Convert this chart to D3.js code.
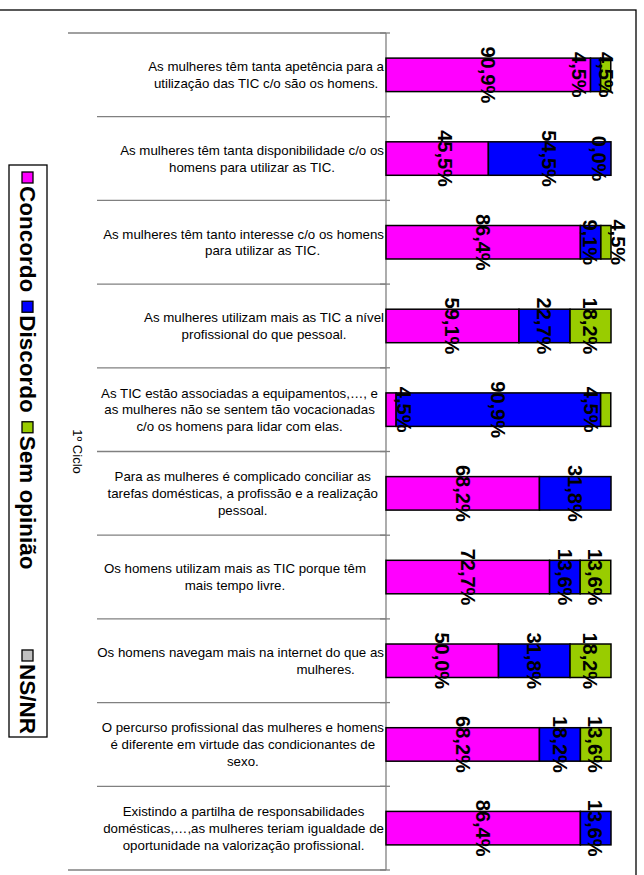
<!DOCTYPE html>
<html>
<head>
<meta charset="utf-8">
<script src="https://cdn.jsdelivr.net/npm/d3@7"></script>
<style>
  body { margin: 0; background: #fff; }
  svg { display: block; }
  text { font-family: "Liberation Sans", Arial, sans-serif; }
</style>
</head>
<body>
<svg id="chart" width="644" height="875"></svg>
<script>
// Statements (each entry = the wrapped lines of one category label)
const categories = [
  ["As mulheres têm tanta apetência para a", "utilização das TIC c/o são os homens."],
  ["As mulheres têm tanta disponibilidade c/o os", "homens para utilizar as TIC."],
  ["As mulheres têm tanto interesse c/o os homens", "para utilizar as TIC."],
  ["As mulheres utilizam mais as TIC a nível", "profissional do que pessoal."],
  ["As TIC estão associadas a equipamentos,…, e", "as mulheres não se sentem tão vocacionadas", "c/o os homens para lidar com elas."],
  ["Para as mulheres é complicado conciliar as", "tarefas domésticas, a profissão e a realização", "pessoal."],
  ["Os homens utilizam mais as TIC porque têm", "mais tempo livre."],
  ["Os homens navegam mais na internet do que as", "mulheres."],
  ["O percurso profissional das mulheres e homens", "é diferente em virtude das condicionantes de", "sexo."],
  ["Existindo a partilha de responsabilidades", "domésticas,…,as mulheres teriam igualdade de", "oportunidade na valorização profissional."]
];

// Percentages per answer (null = no value recorded)
const concordo   = [90.9, 45.5, 86.4, 59.1, 4.5, 68.2, 72.7, 50.0, 68.2, 86.4];
const discordo   = [4.5, 54.5, 9.1, 22.7, 90.9, 31.8, 13.6, 31.8, 18.2, 13.6];
const semOpiniao = [4.5, 0.0, 4.5, 18.2, 4.5, null, 13.6, 18.2, 13.6, null];
const nsnr       = [null, null, null, null, null, null, null, null, null, null];

const seriesNames = ["Concordo", "Discordo", "Sem opinião", "NS/NR"];
const groupLabel = "1º Ciclo";

// ---- presentation ----
const colors = ["#FF00FF", "#0000FF", "#99CC00", "#C0C0C0"];
const labelFont = 13.3, lineGap = 16.7;
// horizontal nudges for crowded value labels, keyed "row-series"
const labelNudge = { "0-1": -16, "1-0": 8, "1-2": -12, "2-2": 12, "4-0": 13, "4-2": -15 };
// horizontal nudges for individual wrapped label lines, keyed "row-line"
const lineNudge = { "2-1": 19, "4-0": -6, "4-1": -6, "4-2": -6, "5-0": -6, "5-1": -6, "5-2": -6,
                    "6-0": -18, "6-1": -18, "7-1": 85 };

const svg = d3.select("#chart");
const seriesValues = [concordo, discordo, semOpiniao, nsnr];
const rows = categories.map((c, i) => {
  const r = { idx: i };
  seriesNames.forEach((s, k) => r[s] = seriesValues[k][i]);
  return r;
});

const stack = d3.stack()
  .keys(seriesNames)
  .value((d, key) => d[key] == null ? 0 : d[key]);
const stacked = stack(rows);

const y = d3.scaleBand()
  .domain(d3.range(categories.length))
  .range([33, 870])
  .paddingInner(0.6)
  .paddingOuter(0.3);
const x = d3.scaleLinear().domain([0, 100]).range([386, 611]);

// outer frame
svg.append("rect")
  .attr("x", -2).attr("y", 10).attr("width", 638).attr("height", 880)
  .attr("fill", "none").attr("stroke", "#000").attr("stroke-width", 1.3);

// category separators (group level lines extend further left)
const bounds = d3.range(categories.length + 1).map(i => 33 + i * y.step());
svg.append("g").selectAll("line").data(bounds).join("line")
  .attr("x1", (d, i) => (i === 0 || i === categories.length) ? 68 : 97)
  .attr("x2", 386)
  .attr("y1", d => d).attr("y2", d => d)
  .attr("stroke", "#808080").attr("stroke-width", 1.3);

// axis line and tick marks
svg.append("line")
  .attr("x1", 386).attr("x2", 386).attr("y1", 33).attr("y2", 870)
  .attr("stroke", "#808080").attr("stroke-width", 1.3);
svg.append("g").selectAll("line").data(bounds).join("line")
  .attr("x1", 380).attr("x2", 390)
  .attr("y1", d => d).attr("y2", d => d)
  .attr("stroke", "#808080").attr("stroke-width", 1.3);

// bars
const gBars = svg.append("g");
stacked.forEach((layer, k) => {
  gBars.append("g").selectAll("rect")
    .data(layer.filter(d => d.data[seriesNames[k]] != null))
    .join("rect")
    .attr("x", d => x(d[0]))
    .attr("width", d => x(d[1]) - x(d[0]))
    .attr("y", d => y(d.data.idx))
    .attr("height", y.bandwidth())
    .attr("fill", colors[k])
    .attr("stroke", "#000")
    .attr("stroke-width", 1.5);
});

// value labels (rotated, reading downward)
const fmt = v => d3.format(".1f")(v).replace(".", ",") + "%";
const gLab = svg.append("g");
stacked.forEach((layer, k) => {
  layer.forEach(d => {
    const v = d.data[seriesNames[k]];
    if (v == null) return;
    const cx = (x(d[0]) + x(d[1])) / 2 + (labelNudge[d.data.idx + "-" + k] || 0);
    const cy = y(d.data.idx) + y.bandwidth() / 2;
    gLab.append("text")
      .attr("transform", `translate(${cx},${cy}) rotate(90)`)
      .attr("text-anchor", "middle")
      .attr("dy", "0.36em")
      .attr("font-size", 20)
      .attr("font-weight", "bold")
      .attr("fill", "#000")
      .text(fmt(v));
  });
});

// category labels: block right-aligned to the axis, lines centred within it
const gCat = svg.append("g");
categories.forEach((lines, i) => {
  const g = gCat.append("g");
  const texts = lines.map(l => g.append("text").attr("font-size", labelFont).attr("fill", "#000").text(l));
  const widths = texts.map(t => t.node().getComputedTextLength());
  const w = d3.max(widths);
  const cx = 384 - w / 2;
  const cy = y(i) + y.bandwidth() / 2;
  texts.forEach((t, j) => {
    t.attr("x", cx + (lineNudge[i + "-" + j] || 0)).attr("text-anchor", "middle")
     .attr("y", cy + (j - (lines.length - 1) / 2) * lineGap)
     .attr("dy", "0.35em");
  });
});

// group label
svg.append("text")
  .attr("transform", `translate(78,${(33 + 870) / 2}) rotate(90)`)
  .attr("text-anchor", "middle")
  .attr("dy", "0.35em")
  .attr("font-size", 13)
  .text(groupLabel);

// legend (rotated)
const legTop = 165, legBottom = 737;
svg.append("rect")
  .attr("x", 9).attr("y", legTop).attr("width", 38).attr("height", legBottom - legTop)
  .attr("fill", "#fff").attr("stroke", "#000").attr("stroke-width", 1.3);
const gLeg = svg.append("g");
const legFont = 22.5, sq = 11;
const items = seriesNames.map((name, k) => {
  const g = gLeg.append("g");
  g.append("rect").attr("x", 22).attr("width", sq).attr("height", sq)
    .attr("fill", colors[k]).attr("stroke", "#000").attr("stroke-width", 1.3);
  const t = g.append("text")
    .attr("font-size", legFont).attr("font-weight", "bold")
    .attr("transform", `translate(20,${sq + 3}) rotate(90)`)
    .text(name);
  return { g, len: sq + 3 + t.node().getComputedTextLength() };
});
let pos = legTop + 7;
items.forEach((it, k) => {
  let p = pos;
  if (k === items.length - 1) p = legBottom - 3 - it.len;
  it.g.attr("transform", `translate(0,${p})`);
  pos += it.len + 9;
});
</script>
</body>
</html>
